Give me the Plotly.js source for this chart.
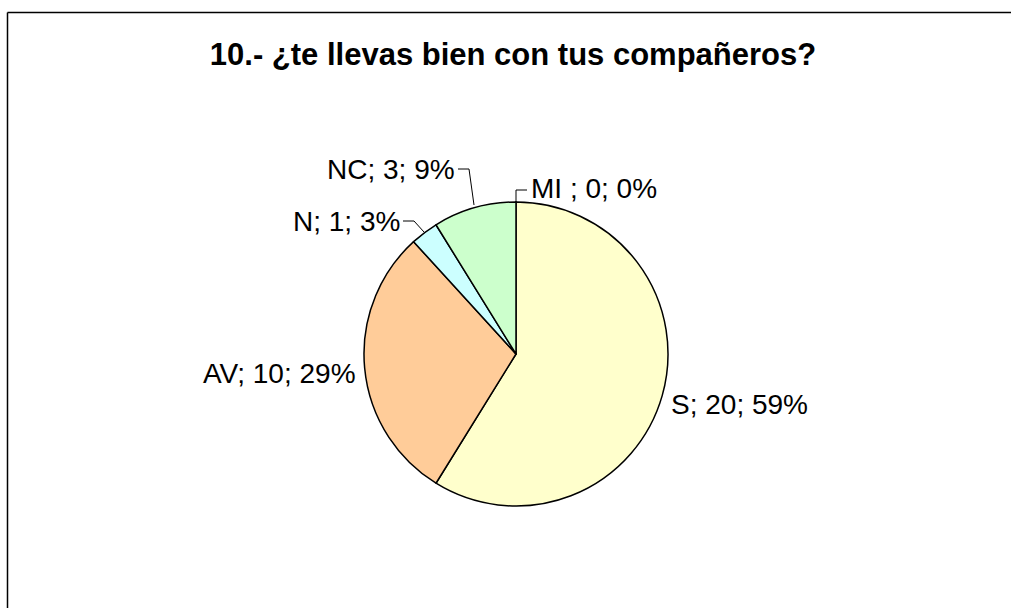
<!DOCTYPE html>
<html>
<head>
<meta charset="utf-8">
<script src="https://cdn.plot.ly/plotly-3.0.1.min.js"></script>
<style>html,body{margin:0;padding:0;background:#fff;overflow:hidden;}#chart{width:1011px;height:608px;}</style>
</head>
<body>
<div id="chart"></div>
<script>
// ---- data ----
const categories = ["MI ", "S", "AV", "N", "NC"];
const values = [0, 20, 10, 1, 3];
const colors = ["#FFFFFF", "#FFFFCC", "#FFCC99", "#CCFFFF", "#CCFFCC"];
const chartTitle = "10.- ¿te llevas bien con tus compañeros?";

// ---- helpers: pixel -> paper ----
const W = 1011, H = 608;
const px = x => x / W;
const py = y => 1 - y / H;

const total = values.reduce((a, b) => a + b, 0);
const labelText = i => categories[i] + "; " + values[i] + "; " + Math.round(100 * values[i] / total) + "%";

// label placement (layout only)
const labelPos = {
  "MI ": {x: 529, y: 189, xanchor: "left"},
  "S":   {x: 669, y: 404, xanchor: "left"},
  "AV":  {x: 358, y: 373, xanchor: "right"},
  "N":   {x: 402, y: 221, xanchor: "right"},
  "NC":  {x: 457, y: 170, xanchor: "right"}
};

const annotations = categories.map((c, i) => ({
  text: labelText(i),
  xref: "paper", yref: "paper",
  x: px(labelPos[c].x), y: py(labelPos[c].y),
  xanchor: labelPos[c].xanchor, yanchor: "middle",
  showarrow: false,
  font: {family: "Liberation Sans, Arial, sans-serif", size: 28, color: "#000"}
}));

function path(pts) {
  return "M" + pts.map(p => px(p[0]) + "," + py(p[1])).join(" L");
}

const leaderStyle = {color: "#000", width: 1};
const frameStyle = {color: "#000", width: 1.5};
const shapes = [
  // chart frame (only left and top edges are inside the picture)
  {type: "line", xref: "paper", yref: "paper", x0: px(7.5), x1: px(7.5), y0: py(12.5), y1: 0, line: frameStyle},
  {type: "line", xref: "paper", yref: "paper", x0: px(7.5), x1: 1, y0: py(12.5), y1: py(12.5), line: frameStyle},
  // leader lines
  {type: "path", xref: "paper", yref: "paper", path: path([[458, 169], [469, 169], [474, 205]]), line: leaderStyle},
  {type: "path", xref: "paper", yref: "paper", path: path([[403, 221], [414, 221], [424, 232]]), line: leaderStyle},
  {type: "path", xref: "paper", yref: "paper", path: path([[516, 202], [516, 190], [527, 190]]), line: leaderStyle}
];

const trace = {
  type: "pie",
  labels: categories,
  values: values,
  sort: false,
  direction: "clockwise",
  rotation: 0,
  marker: {colors: colors, line: {color: "#000", width: 1.5}},
  textinfo: "none",
  hoverinfo: "label+value+percent",
  showlegend: false,
  domain: {x: [px(364), px(668)], y: [py(506), py(202)]}
};

const layout = {
  width: W, height: H,
  margin: {l: 0, r: 0, t: 0, b: 0},
  paper_bgcolor: "#fff",
  showlegend: false,
  title: {
    text: "<b>" + chartTitle + "</b>",
    x: px(513), xanchor: "center",
    y: py(54), yanchor: "middle",
    font: {family: "Liberation Sans, Arial, sans-serif", size: 31, color: "#000"}
  },
  annotations: annotations,
  shapes: shapes
};

Plotly.newPlot("chart", [trace], layout, {displayModeBar: false, staticPlot: true});
</script>
</body>
</html>
